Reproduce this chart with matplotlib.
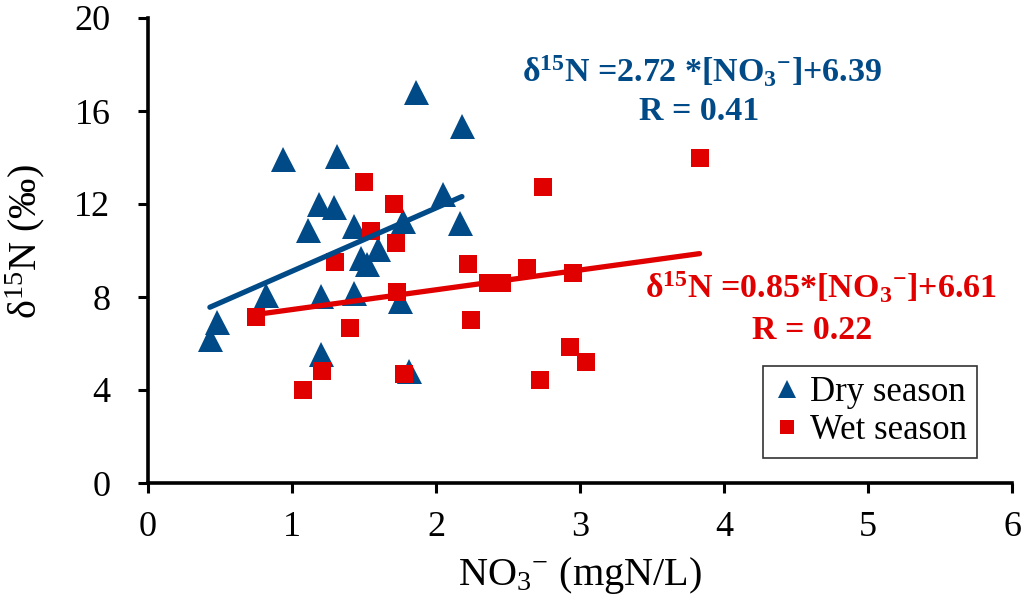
import numpy as np
import matplotlib
matplotlib.use("Agg")
import matplotlib.pyplot as plt

plt.rcParams['font.family'] = ['Liberation Serif', 'DejaVu Serif']
plt.rcParams['mathtext.fontset'] = 'custom'
plt.rcParams['mathtext.rm'] = 'Liberation Serif'
plt.rcParams['mathtext.it'] = 'Liberation Serif:italic'
plt.rcParams['mathtext.bf'] = 'Liberation Serif:bold'

# dry season samples
dry_x = [0.43, 0.48, 0.82, 0.94, 1.11, 1.19, 1.20, 1.20, 1.29, 1.31, 1.43,
         1.43, 1.48, 1.52, 1.60, 1.75, 1.77, 1.81, 1.86, 2.05, 2.17, 2.18]
dry_y = [6.19, 6.94, 8.09, 13.95, 10.9, 11.99, 8.03, 5.55, 11.87, 14.08, 11.07,
         8.16, 9.66, 9.4, 10.05, 7.84, 11.26, 4.83, 16.8, 12.44, 11.2, 15.35]

# wet season samples
wet_x = [0.75, 1.08, 1.21, 1.30, 1.40, 1.50, 1.55, 1.71, 1.72, 1.73, 1.78,
         2.22, 2.24, 2.36, 2.46, 2.63, 2.72, 2.74, 2.93, 2.95, 3.04, 3.83]
wet_y = [7.14, 4.01, 4.83, 9.5, 6.68, 12.96, 10.85, 11.99, 10.31, 8.23, 4.68,
         9.43, 7.0, 8.59, 8.59, 9.25, 4.44, 12.73, 5.85, 9.02, 5.2, 13.97]

# regression coefficients (slope, intercept)
dry_fit = (2.72, 6.39)
wet_fit = (0.85, 6.61)

blue = '#004A87'
red = '#E00000'

fig = plt.figure(figsize=(10.24, 6), dpi=100)
ax = fig.add_axes([0.1445, 0.195, 0.8438, 0.775])

ax.plot(dry_x, dry_y, '^', color=blue, ms=18, mew=0, label='Dry season', zorder=3)
ax.plot(wet_x, wet_y, 's', color=red, ms=13.5, mew=0, label='Wet season', zorder=4)

xd = np.array([min(dry_x), max(dry_x)])
ax.plot(xd, dry_fit[0] * xd + dry_fit[1], color=blue, lw=3.8,
        solid_capstyle='round', zorder=5)
xw = np.array([min(wet_x), max(wet_x)])
ax.plot(xw, wet_fit[0] * xw + wet_fit[1], color=red, lw=3.8,
        solid_capstyle='round', zorder=6)

ax.set_xlim(0, 6)
ax.set_ylim(0, 20)
ax.set_xticks(range(0, 7))
ax.set_yticks(range(0, 21, 4))
for s in ['top', 'right']:
    ax.spines[s].set_visible(False)
for s in ['left', 'bottom']:
    ax.spines[s].set_linewidth(2.6)
ax.tick_params(direction='out', length=7, width=2.2, labelsize=26)
ax.tick_params(axis='y', pad=20)
ax.tick_params(axis='x', pad=13)

ax.set_xlabel('NO$_3$$^{-}$ (mgN/L)', fontsize=29, labelpad=8)
ax.set_ylabel('δ$^{15}$N (‰)', fontsize=29)
ax.yaxis.set_label_coords(-0.117, 0.52)

ax.text(3.85, 17.7, r'δ$^{\mathbf{15}}$N =2.72 *[NO$_{\mathbf{3}}{}^{\mathbf{-}}$]+6.39',
        color=blue, fontsize=24.5, fontweight='bold', ha='center', va='center')
ax.text(3.83, 16.0, 'R = 0.41', color=blue, fontsize=24.5, fontweight='bold',
        ha='center', va='center')
ax.text(4.67, 8.4, r'δ$^{\mathbf{15}}$N =0.85*[NO$_{\mathbf{3}}{}^{\mathbf{-}}$]+6.61',
        color=red, fontsize=24.5, fontweight='bold', ha='center', va='center')
ax.text(4.61, 6.58, 'R = 0.22', color=red, fontsize=24.5, fontweight='bold',
        ha='center', va='center')

leg = ax.legend(loc='lower right', bbox_to_anchor=(0.9595, 0.054), fontsize=25,
                frameon=True, fancybox=False, edgecolor='black', borderaxespad=0,
                handlelength=0.8, handletextpad=0.25, borderpad=0.3,
                labelspacing=0.15, markerscale=0.75)
leg.get_frame().set_linewidth(1.2)

plt.savefig('out.png', dpi=100)
